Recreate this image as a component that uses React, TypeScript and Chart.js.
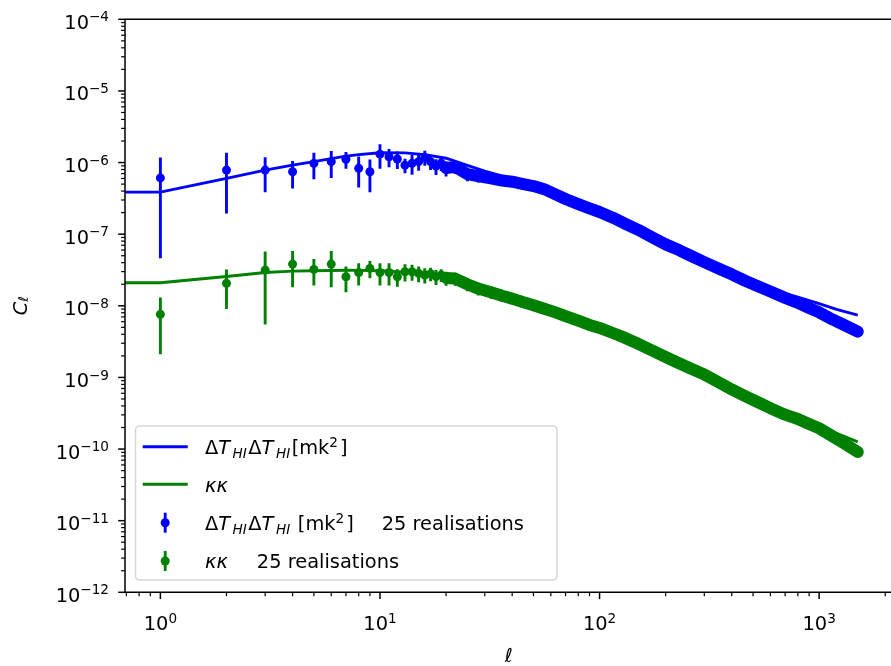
import React, { useEffect, useRef } from "react";
import { Chart, registerables } from "chart.js";
Chart.register(...registerables);

// ---------- data ----------
const ellData = [
  1, 2, 3, 4, 5, 6, 7, 8, 9, 10, 11, 12, 13, 14, 15, 16, 17, 18, 19, 20,
  22, 25, 28, 32, 36, 40, 45, 50, 56, 63, 70, 80, 90, 100, 115, 130, 150, 175,
  200, 230, 260, 300, 350, 400, 460, 530, 600, 700, 800, 900, 1000, 1150, 1300, 1500,
];
const blueData = [
  6.1e-7, 7.85e-7, 7.85e-7, 7.45e-7, 9.75e-7, 1.03e-6, 1.11e-6, 8.3e-7, 7.45e-7, 1.31e-6,
  1.2e-6, 1.12e-6, 9.2e-7, 9.75e-7, 1.03e-6, 1.18e-6, 1.03e-6, 8.9e-7, 9.8e-7, 8.4e-7,
  8.7e-7, 6.9e-7, 6.45e-7, 6.0e-7, 5.6e-7, 5.4e-7, 5.0e-7, 4.7e-7, 4.25e-7, 3.6e-7,
  3.1e-7, 2.63e-7, 2.29e-7, 2.04e-7, 1.7e-7, 1.41e-7, 1.15e-7, 8.9e-8,
  7.2e-8, 6.0e-8, 5.0e-8, 4.07e-8, 3.3e-8, 2.75e-8, 2.24e-8, 1.86e-8, 1.58e-8, 1.29e-8,
  1.1e-8, 9.3e-9, 8.1e-9, 6.45e-9, 5.4e-9, 4.35e-9,
];
const blueErr = [
  5.64e-7, 5.9e-7, 4.0e-7, 3.1e-7, 3.9e-7, 4.2e-7, 2.9e-7, 3.8e-7, 3.6e-7, 4.9e-7,
  3.4e-7, 3.1e-7, 2.1e-7, 3.0e-7, 2.6e-7, 2.8e-7, 2.4e-7, 2.2e-7, 2.2e-7, 2.0e-7,
  1.8e-7, 1.4e-7, 1.2e-7, 1.0e-7, 9e-8, 8e-8, 7e-8, 6e-8, 5e-8, 4e-8,
  3.5e-8, 2.8e-8, 2.2e-8, 2.0e-8, 1.5e-8, 1.2e-8, 9e-9, 7e-9,
  5e-9, 4e-9, 3e-9, 2.5e-9, 2e-9, 1.5e-9, 1.2e-9, 1e-9, 8e-10, 6e-10,
  5e-10, 4e-10, 3.5e-10, 3e-10, 2.5e-10, 2e-10,
];
const greenData = [
  7.6e-9, 2.06e-8, 3.15e-8, 3.82e-8, 3.22e-8, 3.82e-8, 2.54e-8, 2.92e-8, 3.33e-8, 2.92e-8,
  2.92e-8, 2.54e-8, 2.99e-8, 2.99e-8, 2.84e-8, 2.69e-8, 2.8e-8, 2.55e-8, 2.7e-8, 2.45e-8,
  2.4e-8, 2.0e-8, 1.74e-8, 1.55e-8, 1.38e-8, 1.26e-8, 1.12e-8, 1.02e-8, 9.1e-9, 8.1e-9,
  7.2e-9, 6.2e-9, 5.4e-9, 4.9e-9, 4.17e-9, 3.59e-9, 2.95e-9, 2.34e-9,
  1.93e-9, 1.58e-9, 1.33e-9, 1.1e-9, 8.5e-10, 6.8e-10, 5.5e-10, 4.47e-10, 3.72e-10, 3.02e-10,
  2.63e-10, 2.24e-10, 1.95e-10, 1.51e-10, 1.2e-10, 9.1e-11,
];
const greenErr = [
  5.5e-9, 1.16e-8, 2.6e-8, 2.0e-8, 1.3e-8, 2.0e-8, 1.0e-8, 1.0e-8, 0.9e-8, 1.0e-8,
  1.0e-8, 0.7e-8, 0.8e-8, 0.75e-8, 0.7e-8, 0.65e-8, 0.6e-8, 0.6e-8, 0.55e-8, 0.55e-8,
  0.5e-8, 0.4e-8, 0.35e-8, 0.3e-8, 0.25e-8, 0.22e-8, 0.18e-8, 0.15e-8, 1.3e-9, 1.1e-9,
  0.9e-9, 0.7e-9, 0.6e-9, 0.5e-9, 0.4e-9, 0.3e-9, 0.22e-9, 0.17e-9,
  1.3e-10, 1e-10, 8e-11, 6e-11, 5e-11, 4e-11, 3e-11, 2.5e-11, 2e-11, 1.5e-11,
  1.2e-11, 1e-11, 9e-12, 7e-12, 6e-12, 5e-12,
];

const ellTheory = [
  0, 1, 2, 3, 4, 5, 6, 7, 8, 10, 13, 16, 20, 25, 30, 40, 50, 60, 70, 80, 100, 130, 160,
  200, 250, 300, 400, 500, 600, 700, 800, 1000, 1200, 1500,
];
const blueTheory = [
  3.87e-7, 3.87e-7, 6.0e-7, 7.85e-7, 9.2e-7, 1.03e-6, 1.135e-6, 1.23e-6, 1.29e-6, 1.37e-6,
  1.365e-6, 1.29e-6, 1.15e-6, 9.1e-7, 7.6e-7, 5.9e-7, 5.0e-7, 4.27e-7, 3.47e-7, 2.88e-7,
  2.14e-7, 1.48e-7, 1.1e-7, 7.8e-8, 5.6e-8, 4.47e-8, 2.88e-8, 2.14e-8, 1.74e-8, 1.48e-8,
  1.32e-8, 1.07e-8, 8.9e-9, 7.4e-9,
];
const greenTheory = [
  2.1e-8, 2.1e-8, 2.57e-8, 2.92e-8, 3.05e-8, 3.09e-8, 3.11e-8, 3.13e-8, 3.12e-8, 3.09e-8,
  2.95e-8, 2.75e-8, 2.45e-8, 2.0e-8, 1.74e-8, 1.29e-8, 1.05e-8, 8.7e-9, 7.4e-9, 6.3e-9,
  4.9e-9, 3.59e-9, 2.7e-9, 1.93e-9, 1.42e-9, 1.12e-9, 6.9e-10, 4.9e-10, 3.8e-10, 3.16e-10,
  2.69e-10, 2.09e-10, 1.66e-10, 1.26e-10,
];

const xTickExponents = [0, 1, 2, 3];
const yTickExponents = [-12, -11, -10, -9, -8, -7, -6, -5, -4];
const xLabel = "ℓ";

// ---------- styling ----------
const BLUE = "#0000ff";
const GREEN = "#008000";
const FONT = "'DejaVu Sans', sans-serif";
const FS = 19.4;
const CANVAS_W = 900;
const CANVAS_H = 666;
const BAND_FROM = 20;

type Run = { t: string; it?: boolean; sub?: boolean; sup?: boolean; dx?: number };

function runFont(r: Run, size: number) {
  const s = r.sub || r.sup ? size * 0.7 : size;
  return `${r.it ? "italic " : ""}${s}px ${FONT}`;
}
function measureRuns(ctx: CanvasRenderingContext2D, runs: Run[], size: number) {
  let w = 0;
  for (const r of runs) {
    ctx.font = runFont(r, size);
    w += ctx.measureText(r.t).width + (r.dx || 0);
  }
  return w;
}
function drawRuns(
  ctx: CanvasRenderingContext2D,
  runs: Run[],
  x: number,
  y: number,
  size: number,
  subDrop = 0.21
) {
  let cx = x;
  ctx.textAlign = "left";
  ctx.textBaseline = "alphabetic";
  for (const r of runs) {
    ctx.font = runFont(r, size);
    const dy = r.sub ? size * subDrop : r.sup ? -size * 0.38 : 0;
    ctx.fillText(r.t, cx, y + dy);
    cx += ctx.measureText(r.t).width + (r.dx || 0);
  }
  return cx;
}

const mathHI: Run[] = [
  { t: "Δ" },
  { t: "T", it: true, dx: 2.5 },
  { t: "HI", it: true, sub: true, dx: 1.5 },
  { t: "Δ" },
  { t: "T", it: true, dx: 2.5 },
  { t: "HI", it: true, sub: true, dx: 1.5 },
];
const legendRows: { kind: "line" | "err"; color: string; runs: Run[] }[] = [
  {
    kind: "line",
    color: BLUE,
    runs: [...mathHI, { t: "[mk" }, { t: "2", sup: true, dx: 2 }, { t: "]" }],
  },
  { kind: "line", color: GREEN, runs: [{ t: "κκ", it: true }] },
  {
    kind: "err",
    color: BLUE,
    runs: [...mathHI, { t: " [mk" }, { t: "2", sup: true, dx: 2 }, { t: "]", dx: 28 }, { t: "25 realisations" }],
  },
  {
    kind: "err",
    color: GREEN,
    runs: [{ t: "κκ", it: true, dx: 29 }, { t: "25 realisations" }],
  },
];

const errorBarPlugin = {
  id: "errorBars",
  beforeDatasetDraw(chart: any, args: any) {
    const ds = chart.data.datasets[args.index];
    if (!ds.errs) return;
    const { ctx, chartArea } = chart;
    const xs = chart.scales.x;
    const ys = chart.scales.y;
    ctx.save();
    ctx.beginPath();
    ctx.rect(chartArea.left, chartArea.top, chartArea.right - chartArea.left, chartArea.bottom - chartArea.top);
    ctx.clip();
    ctx.strokeStyle = ds.borderColor;
    ctx.lineWidth = 2.9;
    ctx.lineCap = "butt";
    ds.data.forEach((p: any, i: number) => {
      const e = ds.errs[i];
      const x = xs.getPixelForValue(p.x);
      const lo = Math.max(p.y - e, 1e-14);
      const y1 = ys.getPixelForValue(p.y + e);
      const y2 = ys.getPixelForValue(lo);
      ctx.beginPath();
      ctx.moveTo(x, y1);
      ctx.lineTo(x, y2);
      ctx.stroke();
    });
    ctx.restore();
  },
};

const axesPlugin = {
  id: "mplAxes",
  afterDraw(chart: any) {
    const { ctx, chartArea } = chart;
    const xs = chart.scales.x;
    const ys = chart.scales.y;
    const { left, right, top, bottom } = chartArea;
    ctx.save();
    ctx.fillStyle = "#000";
    ctx.strokeStyle = "#000";

    // spines (the right one falls outside the cropped picture)
    ctx.lineWidth = 1.5;
    ctx.beginPath();
    ctx.moveTo(left, top);
    ctx.lineTo(right, top);
    ctx.moveTo(left, top);
    ctx.lineTo(left, bottom);
    ctx.moveTo(left, bottom);
    ctx.lineTo(right, bottom);
    ctx.stroke();

    // x ticks
    const xmin = xs.min, xmax = xs.max;
    for (let d = Math.floor(Math.log10(xmin)); d <= Math.ceil(Math.log10(xmax)); d++) {
      for (let k = 1; k <= 9; k++) {
        const v = k * Math.pow(10, d);
        if (v < xmin * 0.9999 || v > xmax * 1.0001) continue;
        const x = xs.getPixelForValue(v);
        const major = k === 1;
        ctx.lineWidth = major ? 1.5 : 1.2;
        ctx.beginPath();
        ctx.moveTo(x, bottom);
        ctx.lineTo(x, bottom + (major ? 6.8 : 3.9));
        ctx.stroke();
      }
    }
    // y ticks
    const ymin = ys.min, ymax = ys.max;
    for (let d = Math.floor(Math.log10(ymin)); d <= Math.ceil(Math.log10(ymax)); d++) {
      for (let k = 1; k <= 9; k++) {
        const v = k * Math.pow(10, d);
        if (v < ymin * 0.9999 || v > ymax * 1.0001) continue;
        const y = ys.getPixelForValue(v);
        const major = k === 1;
        ctx.lineWidth = major ? 1.5 : 1.2;
        ctx.beginPath();
        ctx.moveTo(left, y);
        ctx.lineTo(left - (major ? 6.8 : 3.9), y);
        ctx.stroke();
      }
    }

    // tick labels
    for (const e of xTickExponents) {
      const x = xs.getPixelForValue(Math.pow(10, e));
      const runs: Run[] = [{ t: "10" }, { t: String(e), sup: true }];
      const w = measureRuns(ctx, runs, FS);
      drawRuns(ctx, runs, x - w / 2, bottom + 38, FS);
    }
    for (const e of yTickExponents) {
      const y = ys.getPixelForValue(Math.pow(10, e));
      const runs: Run[] = [{ t: "10" }, { t: "−" + String(Math.abs(e)), sup: true }];
      const w = measureRuns(ctx, runs, FS);
      drawRuns(ctx, runs, left - 16 - w, y + 9.5, FS);
    }

    // axis labels
    ctx.font = `italic ${FS}px ${FONT}`;
    ctx.textAlign = "center";
    ctx.textBaseline = "alphabetic";
    ctx.fillText(xLabel, (left + right) / 2, 662);

    ctx.save();
    ctx.translate(26.7, (top + bottom) / 2);
    ctx.rotate(-Math.PI / 2);
    const yl: Run[] = [{ t: "C", it: true }, { t: "ℓ", it: true, sub: true }];
    const wy = measureRuns(ctx, yl, FS);
    drawRuns(ctx, yl, -wy / 2, 0, FS, 0.08);
    ctx.restore();

    // legend
    const bx = 135.5, by = 426, bw = 421.5, bh = 154, rr = 3.9;
    ctx.beginPath();
    ctx.moveTo(bx + rr, by);
    ctx.lineTo(bx + bw - rr, by);
    ctx.arcTo(bx + bw, by, bx + bw, by + rr, rr);
    ctx.lineTo(bx + bw, by + bh - rr);
    ctx.arcTo(bx + bw, by + bh, bx + bw - rr, by + bh, rr);
    ctx.lineTo(bx + rr, by + bh);
    ctx.arcTo(bx, by + bh, bx, by + bh - rr, rr);
    ctx.lineTo(bx, by + rr);
    ctx.arcTo(bx, by, bx + rr, by, rr);
    ctx.closePath();
    ctx.fillStyle = "rgba(255,255,255,0.8)";
    ctx.fill();
    ctx.strokeStyle = "#d6d6d6";
    ctx.lineWidth = 1.5;
    ctx.stroke();

    const rowY = [446.8, 484.2, 522.7, 561];
    legendRows.forEach((row, i) => {
      const cy = rowY[i];
      ctx.strokeStyle = row.color;
      ctx.fillStyle = row.color;
      ctx.lineWidth = 2.9;
      if (row.kind === "line") {
        ctx.beginPath();
        ctx.moveTo(142.7, cy);
        ctx.lineTo(187.7, cy);
        ctx.stroke();
      } else {
        ctx.beginPath();
        ctx.moveTo(165.2, cy - 10);
        ctx.lineTo(165.2, cy + 10);
        ctx.stroke();
        ctx.beginPath();
        ctx.arc(165.2, cy, 4.5, 0, Math.PI * 2);
        ctx.fill();
      }
      ctx.fillStyle = "#000";
      drawRuns(ctx, row.runs, 205, cy + 7.4, FS);
    });

    ctx.restore();
  },
};

export default function App() {
  const ref = useRef<HTMLCanvasElement | null>(null);
  useEffect(() => {
    if (!ref.current) return;
    const pts = (xs: number[], ys: number[]) => xs.map((x, i) => ({ x, y: ys[i] }));
    const bandIdx = ellData.map((l, i) => i).filter((i) => ellData[i] >= BAND_FROM);
    const band = (ys: number[]) => bandIdx.map((i) => ({ x: ellData[i], y: ys[i] }));

    const chart = new Chart(ref.current, {
      type: "line",
      data: {
        datasets: [
          {
            label: "blueTheory",
            data: pts(ellTheory, blueTheory),
            borderColor: BLUE,
            borderWidth: 2.9,
            pointRadius: 0,
            fill: false,
            order: 6,
          },
          {
            label: "greenTheory",
            data: pts(ellTheory, greenTheory),
            borderColor: GREEN,
            borderWidth: 2.9,
            pointRadius: 0,
            fill: false,
            order: 5,
          },
          {
            label: "blueBand",
            data: band(blueData),
            borderColor: BLUE,
            borderWidth: 12,
            borderCapStyle: "round",
            borderJoinStyle: "round",
            pointRadius: 0,
            fill: false,
            order: 4,
          },
          {
            label: "blueData",
            data: pts(ellData, blueData),
            errs: blueErr,
            borderColor: BLUE,
            backgroundColor: BLUE,
            showLine: false,
            pointRadius: 4.5,
            pointBorderWidth: 0,
            pointBackgroundColor: BLUE,
            order: 3,
          } as any,
          {
            label: "greenBand",
            data: band(greenData),
            borderColor: GREEN,
            borderWidth: 12,
            borderCapStyle: "round",
            borderJoinStyle: "round",
            pointRadius: 0,
            fill: false,
            order: 2,
          },
          {
            label: "greenData",
            data: pts(ellData, greenData),
            errs: greenErr,
            borderColor: GREEN,
            backgroundColor: GREEN,
            showLine: false,
            pointRadius: 4.5,
            pointBorderWidth: 0,
            pointBackgroundColor: GREEN,
            order: 1,
          } as any,
        ],
      },
      options: {
        animation: false,
        responsive: false,
        devicePixelRatio: 1,
        events: [],
        layout: {
          padding: { left: 125, top: 19.3, right: CANVAS_W - 892.7, bottom: CANVAS_H - 592.3 },
        },
        scales: {
          x: { type: "logarithmic", min: 0.69, max: 2163, display: false },
          y: { type: "logarithmic", min: 1e-12, max: 1e-4, display: false },
        },
        plugins: {
          legend: { display: false },
          tooltip: { enabled: false },
        },
      },
      plugins: [errorBarPlugin, axesPlugin],
    });
    return () => chart.destroy();
  }, []);

  return (
    <div
      style={{
        position: "fixed",
        left: 0,
        top: 0,
        width: 891,
        height: 666,
        overflow: "hidden",
        background: "#fff",
      }}
    >
      <canvas
        ref={ref}
        width={CANVAS_W}
        height={CANVAS_H}
        style={{ width: CANVAS_W, height: CANVAS_H, display: "block" }}
      />
    </div>
  );
}
